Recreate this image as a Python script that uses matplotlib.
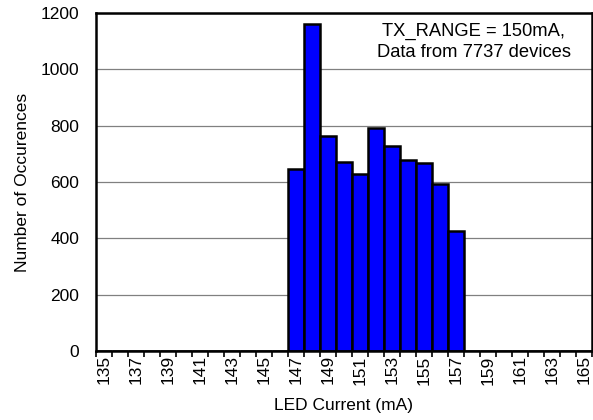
import matplotlib
matplotlib.use("Agg")
import matplotlib.pyplot as plt
import numpy as np

plt.rcParams['font.family'] = ['Liberation Sans', 'DejaVu Sans']

# LED current bins (mA) and number of devices in each bin
currents = list(range(135, 166))
counts = [0, 0, 0, 0, 0, 0, 0, 0, 0, 0, 0, 0,
          645, 1160, 763, 670, 628, 792, 727, 678, 667, 594, 426,
          0, 0, 0, 0, 0, 0, 0, 0]
tick_labels = [str(c) for c in currents[::2]]

fig = plt.figure(figsize=(5.93, 4.20), dpi=100)
ax = fig.add_axes([0.162, 0.164, 0.836, 0.805])

x = np.arange(len(currents))
ax.bar(x, counts, width=1.0, color='#0000FF', edgecolor='black',
       linewidth=1.8, zorder=3)

ax.set_xlim(-0.5, len(currents) - 0.5)
ax.set_ylim(0, 1200)
ax.set_yticks(range(0, 1201, 200))
ax.yaxis.grid(True, color='#808080', linewidth=0.9, zorder=0)

ax.set_xticks(x[::2])
ax.set_xticklabels(tick_labels, rotation=90, fontsize=12.5)
ax.set_xticks(np.arange(-0.5, len(currents), 1.0), minor=True)
ax.tick_params(axis='x', which='major', length=0, pad=3)
ax.tick_params(axis='x', which='minor', length=4, width=1.2, direction='out')
ax.tick_params(axis='y', length=0, labelsize=12.5, pad=12)

for s in ax.spines.values():
    s.set_linewidth(1.8)
    s.set_zorder(4)

ax.set_ylabel('Number of Occurences', fontsize=12.5, labelpad=8)
ax.set_xlabel('LED Current (mA)', fontsize=12.5, labelpad=10)

ax.text(0.762, 0.97, 'TX_RANGE = 150mA,\nData from 7737 devices',
        transform=ax.transAxes, ha='center', va='top', fontsize=13.2,
        multialignment='center', linespacing=1.25,
        bbox=dict(facecolor='white', edgecolor='none', pad=1), zorder=5)

fig.savefig('out.png', dpi=100)
